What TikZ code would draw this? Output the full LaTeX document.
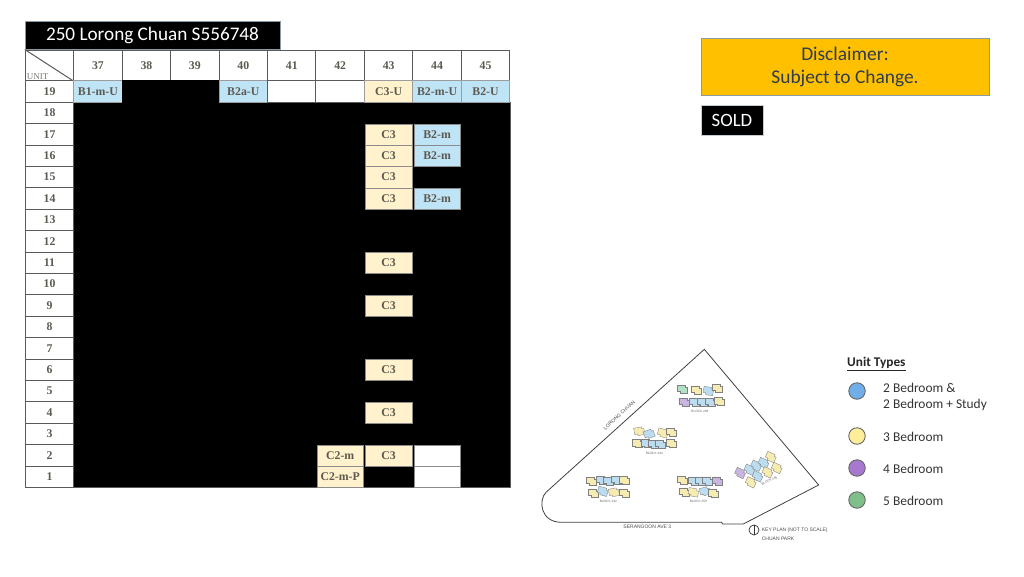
\documentclass[tikz,border=0pt]{standalone}
\usepackage[dvipsnames]{xcolor}
\usepackage{fontspec}
\setmainfont{Carlito}
\newfontfamily\gridfont{Liberation Serif}
\newfontfamily\planfont{Liberation Sans}

\definecolor{gridline}{HTML}{5A5A5A}
\definecolor{gridtext}{HTML}{5C5A50}
\definecolor{twobed}{HTML}{BFE4F6}
\definecolor{threebed}{HTML}{FFF2CC}
\definecolor{planblue}{HTML}{BCDDF0}
\definecolor{planyellow}{HTML}{F6EBB0}
\definecolor{planpurple}{HTML}{C9B5E2}
\definecolor{plangreen}{HTML}{B5E0C8}
\definecolor{noteorange}{HTML}{FFC000}
\definecolor{noteborder}{HTML}{8A9BA8}
\definecolor{notetext}{HTML}{2F3B52}
\definecolor{legendblue}{HTML}{6FAEE6}
\definecolor{legendyellow}{HTML}{FFEE99}
\definecolor{legendpurple}{HTML}{A678D0}
\definecolor{legendgreen}{HTML}{7FC08A}

\newcommand{\planunit}[4]{\draw[draw=gray,line width=0.35pt,fill=#1,rotate around={#4:(#2,#3)}] (#2-15,#3-13) -- (#2+9,#3-13) -- (#2+9,#3-7) -- (#2+15,#3-7) -- (#2+15,#3+11) -- (#2-6,#3+11) -- (#2-6,#3+6) -- (#2-15,#3+6) -- cycle;}

\begin{document}
\begin{tikzpicture}[x=1pt,y=-1pt,node distance=48.45pt,
    head cell/.style={draw=gridline,fill=white,line width=1pt,minimum width=48.45pt,minimum height=31pt,inner sep=0pt,text=gridtext,font=\gridfont\bfseries\fontsize{11.8}{12}\selectfont},
    floor cell/.style={draw=gridline,fill=white,line width=1pt,minimum width=48.45pt,minimum height=21.4pt,inner sep=0pt,node distance=21.4pt,text=gridtext,font=\gridfont\bfseries\fontsize{11.8}{12}\selectfont},
    top blue/.style={floor cell,fill=twobed,draw=gridline!60},
    top cream/.style={floor cell,fill=threebed,draw=gridline!60},
    sold cell/.style={floor cell,fill=black,draw=black},
    unit blue/.style={draw=gridline!70,line width=0.4pt,fill=twobed,minimum width=46.5pt,minimum height=21.2pt,inner sep=0pt,text=gridtext,font=\gridfont\bfseries\fontsize{11.8}{12}\selectfont},
    unit cream/.style={unit blue,fill=threebed},
    unit empty/.style={unit blue,fill=white},
    legend dot/.style={circle,draw=gray!80!black,line width=0.9pt,minimum size=16.5pt,inner sep=0pt},
    legend text/.style={anchor=west,inner sep=0pt,text=black!80,font=\fontsize{13.4}{16}\selectfont,align=left},
    plan text/.style={inner sep=0pt,text=black!70,font=\planfont\fontsize{5}{6}\selectfont},
    block text/.style={inner sep=0pt,text=black!60,font=\planfont\fontsize{3.2}{4}\selectfont}]

            \useasboundingbox (0,0) rectangle (1024,576);

            % sold floors
            \fill[black] (74,102) rectangle (510,487.6);
            \draw[gridline,line width=1pt] (510,102) -- (510,487.6) -- (74,487.6);

            % title and notes
            \node[draw=noteborder,fill=black,text=white,minimum width=255pt,minimum height=28pt,inner sep=0pt,font=\fontsize{19.2}{20}\selectfont] (title) at (152.5,35) {250 Lorong Chuan S556748};
            \node[draw=noteborder,fill=noteorange,text=notetext,minimum width=288pt,minimum height=57pt,inner sep=0pt,align=center,font=\fontsize{19.4}{23}\selectfont] (disclaimer) at (845,66.5) {\rule{0pt}{1pt}\raisebox{-1pt}{Disclaimer:}\\\raisebox{-1pt}{Subject to Change.}};
            \node[draw=noteborder!50,fill=black,text=white,minimum width=62pt,minimum height=30pt,inner sep=0pt,font=\fontsize{18.8}{20}\selectfont] (sold) at (732,120) {SOLD};

            % header row
            \node[head cell] (corner) at (49.5,65.5) {};
            \node[head cell] (c37) [right of = corner]{37};
            \node[head cell] (c38) [right of = c37]{38};
            \node[head cell] (c39) [right of = c38]{39};
            \node[head cell] (c40) [right of = c39]{40};
            \node[head cell] (c41) [right of = c40]{41};
            \node[head cell] (c42) [right of = c41]{42};
            \node[head cell] (c43) [right of = c42]{43};
            \node[head cell] (c44) [right of = c43]{44};
            \node[head cell] (c45) [right of = c44]{45};
            \node[anchor=south west,inner sep=2pt,text=gridtext!80,font=\gridfont\fontsize{9}{9}\selectfont] (unit) at (corner.south west) {UNIT};
            \draw[gridline,line width=1pt] (corner.north west) -- (corner.south east);

            % floor column
            \node[floor cell] (r19) at (49.5,91.5) {19};
            \node[floor cell] (r18) [below of = r19]{18};
            \node[floor cell] (r17) [below of = r18]{17};
            \node[floor cell] (r16) [below of = r17]{16};
            \node[floor cell] (r15) [below of = r16]{15};
            \node[floor cell] (r14) [below of = r15]{14};
            \node[floor cell] (r13) [below of = r14]{13};
            \node[floor cell] (r12) [below of = r13]{12};
            \node[floor cell] (r11) [below of = r12]{11};
            \node[floor cell] (r10) [below of = r11]{10};
            \node[floor cell] (r9) [below of = r10]{9};
            \node[floor cell] (r8) [below of = r9]{8};
            \node[floor cell] (r7) [below of = r8]{7};
            \node[floor cell] (r6) [below of = r7]{6};
            \node[floor cell] (r5) [below of = r6]{5};
            \node[floor cell] (r4) [below of = r5]{4};
            \node[floor cell] (r3) [below of = r4]{3};
            \node[floor cell] (r2) [below of = r3]{2};
            \node[floor cell] (r1) [below of = r2]{1};

            % top floor
            \node[top blue] (u37r19) at (c37 |- r19) {B1-m-U};
            \node[sold cell] (u38r19) at (c38 |- r19) {};
            \node[sold cell] (u39r19) at (c39 |- r19) {};
            \node[top blue] (u40r19) at (c40 |- r19) {B2a-U};
            \node[floor cell] (u41r19) at (c41 |- r19) {};
            \node[floor cell] (u42r19) at (c42 |- r19) {};
            \node[top cream] (u43r19) at (c43 |- r19) {C3-U};
            \node[top blue] (u44r19) at (c44 |- r19) {B2-m-U};
            \node[top blue] (u45r19) at (c45 |- r19) {B2-U};

            % units left
            \node[unit cream] (u43r17) at (c43 |- r17) {C3};
            \node[unit blue] (u44r17) at (c44 |- r17) {B2-m};
            \node[unit cream] (u43r16) at (c43 |- r16) {C3};
            \node[unit blue] (u44r16) at (c44 |- r16) {B2-m};
            \node[unit cream] (u43r15) at (c43 |- r15) {C3};
            \node[unit cream] (u43r14) at (c43 |- r14) {C3};
            \node[unit blue] (u44r14) at (c44 |- r14) {B2-m};
            \node[unit cream] (u43r11) at (c43 |- r11) {C3};
            \node[unit cream] (u43r9) at (c43 |- r9) {C3};
            \node[unit cream] (u43r6) at (c43 |- r6) {C3};
            \node[unit cream] (u43r4) at (c43 |- r4) {C3};
            \node[unit cream] (u42r2) at (c42 |- r2) {C2-m};
            \node[unit cream] (u43r2) at (c43 |- r2) {C3};
            \node[unit empty] (u44r2) at (c44 |- r2) {};
            \node[unit cream] (u42r1) at (c42 |- r1) {C2-m-P};
            \node[unit empty] (u44r1) at (c44 |- r1) {};

            % legend
            \node[anchor=west,inner sep=0pt,text=black!85,font=\bfseries\fontsize{13.3}{15}\selectfont] (types) at (847,364) {\underline{Unit Types}};
            \node[legend dot,fill=legendblue] (dot2) at (857,391) {};
            \node[legend dot,fill=legendyellow] (dot3) at (857,436) {};
            \node[legend dot,fill=legendpurple] (dot4) at (857,468) {};
            \node[legend dot,fill=legendgreen] (dot5) at (857,500) {};
            \node[legend text] (text2) at (883,397) {2 Bedroom \&\\2 Bedroom + Study};
            \node[legend text] (text3) at (883,436.5) {3 Bedroom};
            \node[legend text] (text4) at (883,468.5) {4 Bedroom};
            \node[legend text] (text5) at (883,500.5) {5 Bedroom};

            % key plan, in units of the crop
            \begin{scope}[shift={(530,340)},x=0.3333pt,y=-0.3333pt]
                \draw[black!75,line width=0.8pt] (523,28) -- (48,457) .. controls (25,480) and (30,547) .. (95,547) -- (575,547) -- (578,552) -- (640,552) -- (866,435) -- cycle;

                % block 248
                \planunit{plangreen}{458}{148}{0}
                \planunit{planyellow}{498}{152}{0}
                \planunit{planblue}{535}{154}{-10}
                \planunit{planyellow}{562}{146}{0}
                \planunit{planpurple}{462}{188}{0}
                \planunit{planblue}{492}{187}{0}
                \planunit{planblue}{516}{187}{0}
                \planunit{planblue}{540}{187}{0}
                \planunit{planyellow}{568}{186}{0}
                % block 244
                \planunit{planyellow}{328}{275}{10}
                \planunit{planblue}{358}{283}{20}
                \planunit{planyellow}{398}{280}{-15}
                \planunit{planyellow}{425}{278}{0}
                \planunit{planyellow}{322}{312}{0}
                \planunit{planblue}{348}{312}{0}
                \planunit{planblue}{370}{314}{0}
                \planunit{planblue}{392}{314}{0}
                \planunit{planyellow}{424}{312}{0}
                % block 242
                \planunit{planyellow}{185}{425}{0}
                \planunit{planblue}{215}{422}{0}
                \planunit{planblue}{235}{424}{0}
                \planunit{planblue}{258}{422}{0}
                \planunit{planyellow}{283}{423}{0}
                \planunit{planyellow}{190}{460}{0}
                \planunit{planblue}{218}{455}{-15}
                \planunit{planyellow}{252}{458}{10}
                \planunit{planyellow}{283}{460}{0}
                % block 250
                \planunit{planyellow}{458}{422}{0}
                \planunit{planblue}{490}{424}{0}
                \planunit{planblue}{512}{424}{0}
                \planunit{planblue}{532}{424}{0}
                \planunit{planpurple}{562}{424}{0}
                \planunit{planyellow}{462}{458}{0}
                \planunit{planyellow}{490}{458}{-10}
                \planunit{planblue}{525}{455}{15}
                \planunit{planyellow}{550}{462}{0}
                % block 246
                \planunit{planpurple}{630}{400}{-25}
                \planunit{planblue}{658}{390}{-25}
                \planunit{planblue}{678}{378}{-25}
                \planunit{planblue}{700}{370}{-25}
                \planunit{planyellow}{722}{352}{-25}
                \planunit{planyellow}{662}{428}{-25}
                \planunit{planblue}{682}{410}{-25}
                \planunit{planyellow}{712}{398}{-25}
                \planunit{planyellow}{740}{385}{-25}

                \node[block text] (b248) at (510,215) {BLOCK 248};
                \node[block text] (b244) at (373,340) {BLOCK 244};
                \node[block text] (b242) at (235,485) {BLOCK 242};
                \node[block text] (b250) at (505,485) {BLOCK 250};
                \node[block text,rotate=25] (b246) at (718,423) {BLOCK 246};
                \node[plan text,rotate=43] (lorong) at (268,226) {LORONG CHUAN};
                \node[plan text] (serangoon) at (352,560) {SERANGOON AVE 3};
                \node[circle,draw=black!80,line width=0.7pt,minimum size=10pt,inner sep=0pt] (north) at (672,570) {};
                \draw[black!80,line width=0.7pt] (north.north) -- (north.south);
                \node[plan text,anchor=west] (keyplan) at (695,570) {KEY PLAN (NOT TO SCALE)};
                \node[plan text,anchor=west] (park) at (695,595) {CHUAN PARK};
            \end{scope}
        \end{tikzpicture}
\end{document}
